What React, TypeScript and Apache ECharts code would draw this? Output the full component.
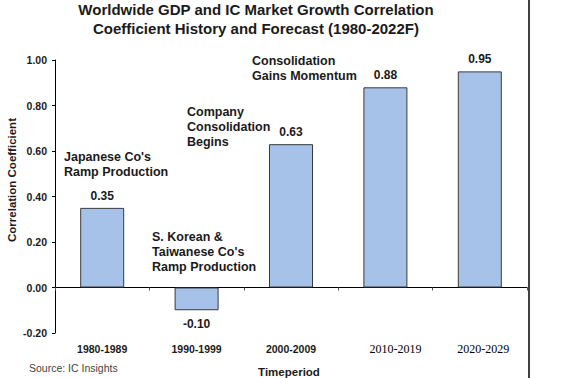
import React, { useEffect, useRef } from "react";
import * as echarts from "echarts";

const categories = ["1980-1989", "1990-1999", "2000-2009", "2010-2019", "2020-2029"];
const values = [0.35, -0.1, 0.63, 0.88, 0.95];
const yMin = -0.2;
const yMax = 1.0;
const yStep = 0.2;
const titleLines = [
  "Worldwide GDP and IC Market Growth Correlation",
  "Coefficient History and Forecast (1980-2022F)",
];
const annotations = [
  { text: "Japanese Co's\nRamp Production", x: 64, y: 149 },
  { text: "S. Korean &\nTaiwanese Co's\nRamp Production", x: 152, y: 229 },
  { text: "Company\nConsolidation\nBegins", x: 187, y: 104 },
  { text: "Consolidation\nGains Momentum", x: 252, y: 53 },
];

const SANS = "'Liberation Sans', Arial, sans-serif";
const SERIF = "'Liberation Serif', 'Times New Roman', serif";
const INK = "#1a1a1a";

export default function App() {
  const ref = useRef<HTMLDivElement>(null);
  useEffect(() => {
    if (!ref.current) return;
    const chart = echarts.init(ref.current, undefined, { renderer: "svg" });
    chart.setOption({
      animation: false,
      backgroundColor: "#ffffff",
      grid: { left: 55, right: 35, top: 60, bottom: 45, containLabel: false },
      xAxis: [
        {
          type: "category",
          data: categories,
          position: "bottom",
          axisLine: { show: false, onZero: false },
          axisTick: { show: false },
          axisLabel: {
            interval: 0,
            margin: 10,
            formatter: (v: string, i: number) =>
              i === 3 ? `{s3|${v}}` : i === 4 ? `{s4|${v}}` : `{b|${v}}`,
            rich: {
              b: { fontFamily: SANS, fontWeight: "bold", fontSize: 10.5, color: INK },
              s3: { fontFamily: SERIF, fontSize: 12, color: "#000", padding: [0, 0, 0, 20] },
              s4: { fontFamily: SERIF, fontSize: 12, color: "#000", padding: [0, 0, 0, 7] },
            },
          },
        },
        {
          type: "category",
          data: categories,
          position: "bottom",
          axisLine: { show: true, onZero: true, lineStyle: { color: "#000", width: 1 } },
          axisTick: { show: true, length: 3, lineStyle: { color: "#555" } },
          axisLabel: { show: false },
        },
      ],
      yAxis: {
        type: "value",
        min: yMin,
        max: yMax,
        interval: yStep,
        axisLine: { show: true, lineStyle: { color: "#000", width: 1 } },
        axisTick: { show: true, length: 3, lineStyle: { color: "#000" } },
        splitLine: { show: false },
        axisLabel: {
          margin: 8,
          formatter: (v: number) => v.toFixed(2),
          fontFamily: SANS,
          fontWeight: "bold",
          fontSize: 10.5,
          color: INK,
        },
      },
      series: [
        {
          type: "bar",
          xAxisIndex: 0,
          barWidth: 44,
          itemStyle: { color: "#a6c2e8", borderColor: "#3a3a3a", borderWidth: 1 },
          label: {
            show: true,
            fontFamily: SANS,
            fontWeight: "bold",
            fontSize: 12,
            color: INK,
            formatter: (p: any) => Number(p.value).toFixed(2),
          },
          data: values.map((v) => ({
            value: v,
            label: { position: v < 0 ? "bottom" : "top", distance: v < 0 ? 8 : 6 },
          })),
        },
      ],
      graphic: [
        {
          type: "text",
          x: 256,
          y: 0,
          style: {
            text: titleLines.join("\n"),
            font: `bold 15px ${SANS}`,
            fill: INK,
            align: "center",
            verticalAlign: "top",
            lineHeight: 19,
          },
        },
        ...annotations.map((a) => ({
          type: "text",
          x: a.x,
          y: a.y,
          style: {
            text: a.text,
            font: `bold 12.5px ${SANS}`,
            fill: INK,
            align: "left",
            verticalAlign: "top",
            lineHeight: 15,
          },
        })),
        {
          type: "text",
          x: 12,
          y: 180,
          rotation: Math.PI / 2,
          style: {
            text: "Correlation Coefficient",
            font: `bold 11.5px ${SANS}`,
            fill: INK,
            align: "center",
            verticalAlign: "middle",
          },
        },
        {
          type: "text",
          x: 289,
          y: 372,
          style: {
            text: "Timeperiod",
            font: `bold 11.5px ${SANS}`,
            fill: INK,
            align: "center",
            verticalAlign: "middle",
          },
        },
        {
          type: "text",
          x: 29,
          y: 368,
          style: {
            text: "Source: IC Insights",
            font: `10.5px ${SANS}`,
            fill: "#444",
            align: "left",
            verticalAlign: "middle",
          },
        },
        {
          type: "line",
          shape: { x1: 529, y1: 0, x2: 529, y2: 378 },
          style: { stroke: "#000", lineWidth: 1.5 },
        },
      ],
    });
    return () => chart.dispose();
  }, []);
  return <div ref={ref} style={{ width: 562, height: 378, position: "fixed", left: 0, top: 0 }} />;
}
